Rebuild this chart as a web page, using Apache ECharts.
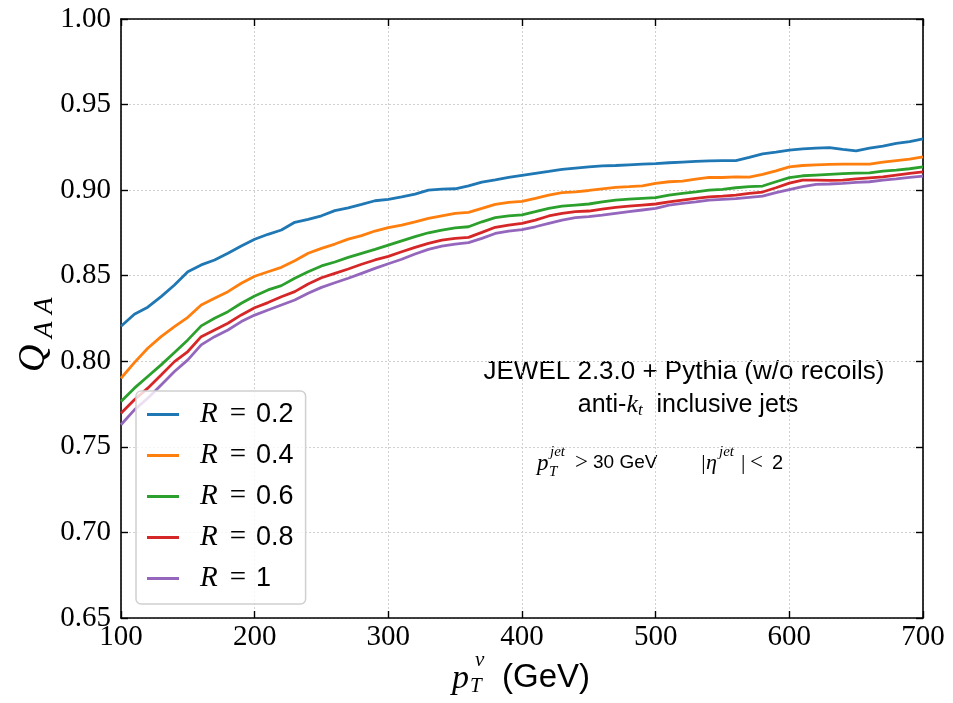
<!DOCTYPE html>
<html>
<head>
<meta charset="utf-8">
<script src="https://cdn.jsdelivr.net/npm/echarts@6/dist/echarts.min.js"></script>
<style>html,body{margin:0;padding:0;background:#fff}#c{width:953px;height:703px}</style>
</head>
<body>
<div id="c"></div>
<script>
const pt = [100,110,120,130,140,150,160,170,180,190,200,210,220,230,240,250,260,270,280,290,300,310,320,330,340,350,360,370,380,390,400,410,420,430,440,450,460,470,480,490,500,510,520,530,540,550,560,570,580,590,600,610,620,630,640,650,660,670,680,690,700];
const R02 = [0.8205,0.8275,0.8316,0.8378,0.8446,0.8523,0.8563,0.8592,0.8631,0.8673,0.8713,0.8742,0.8767,0.8812,0.8829,0.8850,0.8880,0.8897,0.8917,0.8938,0.8946,0.8961,0.8977,0.9000,0.9006,0.9008,0.9025,0.9047,0.9060,0.9074,0.9086,0.9098,0.9109,0.9121,0.9129,0.9136,0.9142,0.9144,0.9148,0.9152,0.9155,0.9160,0.9164,0.9168,0.9171,0.9173,0.9173,0.9191,0.9212,0.9222,0.9234,0.9241,0.9245,0.9249,0.9238,0.9230,0.9245,0.9257,0.9273,0.9284,0.9300];
const R04 = [0.7901,0.7992,0.8076,0.8144,0.8202,0.8257,0.8329,0.8368,0.8407,0.8456,0.8497,0.8523,0.8549,0.8588,0.8631,0.8660,0.8685,0.8714,0.8734,0.8761,0.8781,0.8796,0.8815,0.8835,0.8850,0.8864,0.8870,0.8893,0.8917,0.8928,0.8934,0.8952,0.8971,0.8985,0.8990,0.8998,0.9008,0.9016,0.9020,0.9025,0.9040,0.9049,0.9053,0.9064,0.9074,0.9074,0.9078,0.9076,0.9092,0.9113,0.9136,0.9144,0.9148,0.9150,0.9152,0.9152,0.9152,0.9164,0.9173,0.9181,0.9195];
const R06 = [0.7765,0.7843,0.7911,0.7979,0.8051,0.8125,0.8207,0.8251,0.8290,0.8339,0.8382,0.8417,0.8442,0.8485,0.8523,0.8557,0.8580,0.8607,0.8631,0.8654,0.8679,0.8704,0.8728,0.8751,0.8767,0.8780,0.8786,0.8815,0.8839,0.8850,0.8856,0.8874,0.8893,0.8907,0.8913,0.8919,0.8932,0.8942,0.8948,0.8952,0.8956,0.8971,0.8981,0.8990,0.9000,0.9004,0.9014,0.9020,0.9024,0.9049,0.9073,0.9084,0.9088,0.9092,0.9096,0.9099,0.9101,0.9111,0.9117,0.9125,0.9136];
const R08 = [0.7697,0.7775,0.7843,0.7920,0.7998,0.8057,0.8144,0.8183,0.8222,0.8271,0.8313,0.8343,0.8377,0.8407,0.8452,0.8488,0.8514,0.8539,0.8567,0.8592,0.8613,0.8640,0.8666,0.8689,0.8708,0.8718,0.8724,0.8753,0.8783,0.8796,0.8806,0.8825,0.8849,0.8864,0.8874,0.8878,0.8889,0.8899,0.8907,0.8913,0.8919,0.8932,0.8942,0.8952,0.8961,0.8965,0.8971,0.8981,0.8989,0.9014,0.9041,0.9059,0.9059,0.9057,0.9059,0.9066,0.9072,0.9078,0.9088,0.9098,0.9107];
const R10 = [0.7629,0.7716,0.7784,0.7862,0.7940,0.8008,0.8096,0.8144,0.8183,0.8232,0.8270,0.8300,0.8329,0.8358,0.8397,0.8432,0.8459,0.8485,0.8514,0.8543,0.8570,0.8596,0.8627,0.8654,0.8673,0.8685,0.8693,0.8718,0.8747,0.8761,0.8769,0.8786,0.8806,0.8825,0.8839,0.8845,0.8854,0.8864,0.8874,0.8884,0.8893,0.8913,0.8923,0.8932,0.8942,0.8946,0.8950,0.8958,0.8965,0.8985,0.9003,0.9020,0.9034,0.9036,0.9039,0.9045,0.9049,0.9059,0.9066,0.9074,0.9082];
const seriesNames = ['R = 0.2','R = 0.4','R = 0.6','R = 0.8','R = 1'];
const seriesValues = [R02,R04,R06,R08,R10];
const colors = ['#1f77b4','#ff7f0e','#2ca02c','#d62728','#9467bd'];
const xTicks = [100,200,300,400,500,600,700];
const yTicks = [0.65,0.70,0.75,0.80,0.85,0.90,0.95,1.00];

const SERIF = '"Liberation Serif", "DejaVu Serif", serif';
const SANS = '"Liberation Sans", "DejaVu Sans", sans-serif';

const chart = echarts.init(document.getElementById('c'), null, {renderer:'canvas'});
const axisLine = {show:true, lineStyle:{color:'#000', width:1.6}};
const tick = {show:true, inside:true, length:7, lineStyle:{color:'#000', width:1.4}};
const grid = {show:true, lineStyle:{color:'#d0d0d0', type:[2,2], width:1}};

const option = {
  animation:false,
  backgroundColor:'#fff',
  color: colors,
  grid:{left:121, right:30, top:19, bottom:85, containLabel:false},
  xAxis:[
    {type:'value', min:xTicks[0], max:xTicks[xTicks.length-1], interval:100, position:'bottom',
     axisLine, axisTick:tick, splitLine:grid,
     axisLabel:{color:'#000', fontFamily:SERIF, fontSize:29, margin:5}},
    {type:'value', min:xTicks[0], max:xTicks[xTicks.length-1], interval:100, position:'top',
     axisLine, axisTick:tick, splitLine:{show:false}, axisLabel:{show:false}}
  ],
  yAxis:[
    {type:'value', min:yTicks[0], max:yTicks[yTicks.length-1], interval:0.05, position:'left',
     axisLine, axisTick:tick, splitLine:grid,
     axisLabel:{color:'#000', fontFamily:SERIF, fontSize:29, margin:10,
       formatter:v=>v.toFixed(2)}},
    {type:'value', min:yTicks[0], max:yTicks[yTicks.length-1], interval:0.05, position:'right',
     axisLine, axisTick:tick, splitLine:{show:false}, axisLabel:{show:false}}
  ],
  legend:{
    orient:'vertical', left:136, top:391,
    data: seriesNames,
    icon:'rect', itemWidth:32, itemHeight:3, itemGap:12,
    padding:[9,12,11,11],
    backgroundColor:'rgba(255,255,255,0.8)',
    borderColor:'#d0d0d0', borderWidth:1.5, borderRadius:5,
    formatter: name => '{r|R}{e|=}{n|' + name.split('= ')[1] + '}',
    textStyle:{
      color:'#000',
      rich:{
        r:{fontFamily:SERIF, fontStyle:'italic', fontSize:29, padding:[0,0,0,16], lineHeight:29},
        e:{fontFamily:SERIF, fontSize:29, padding:[0,10,0,12], lineHeight:29},
        n:{fontFamily:SANS, fontSize:27, lineHeight:29}
      }
    }
  },
  series: seriesNames.map((n,i)=>({
    name:n, type:'line', showSymbol:false, symbol:'none',
    data: pt.map((x,j)=>[x, seriesValues[i][j]]),
    lineStyle:{width:2.8, color:colors[i]},
    itemStyle:{color:colors[i]}
  })),
  graphic:[
    // x axis title
    {type:'text', left:452, top:662, style:{text:'p', font:'italic 34px '+SERIF, fill:'#000'}},
    {type:'text', left:475, top:650, style:{text:'v', font:'italic 21px '+SERIF, fill:'#000'}},
    {type:'text', left:470, top:676, style:{text:'T', font:'italic 21px '+SERIF, fill:'#000'}},
    {type:'text', left:502, top:661, style:{text:'(GeV)', font:'33px '+SANS, fill:'#000'}},
    // y axis title
    {type:'text', x:15, y:372, rotation:Math.PI/2, style:{text:'Q', font:'italic 38px '+SERIF, fill:'#000'}},
    {type:'text', x:31, y:338, rotation:Math.PI/2, style:{text:'A', font:'italic 27px '+SERIF, fill:'#000'}},
    {type:'text', x:31, y:314, rotation:Math.PI/2, style:{text:'A', font:'italic 27px '+SERIF, fill:'#000'}},
    // annotations
    {type:'text', x:684, y:372, style:{text:'JEWEL 2.3.0 + Pythia (w/o recoils)', font:'26px '+SANS, fill:'#000', align:'center', verticalAlign:'middle'}},
    {type:'text', x:688, y:405, style:{
      text:'{a|anti-}{k|k}{t|t}{a|  inclusive jets}', align:'center', verticalAlign:'middle',
      rich:{a:{font:'25px '+SANS, fill:'#000', lineHeight:30},
            k:{font:'italic 26px '+SERIF, fill:'#000', lineHeight:30},
            t:{font:'italic 17px '+SERIF, fill:'#000', lineHeight:30, padding:[12,0,0,0]}}}},
    {type:'text', left:537, top:452, style:{text:'p', font:'italic 23px '+SERIF, fill:'#000'}},
    {type:'text', left:550, top:445, style:{text:'jet', font:'italic 15px '+SERIF, fill:'#000'}},
    {type:'text', left:549, top:465, style:{text:'T', font:'italic 15px '+SERIF, fill:'#000'}},
    {type:'text', left:575, top:451, style:{text:'>', font:'23px '+SERIF, fill:'#000'}},
    {type:'text', left:593, top:453, style:{text:'30 GeV', font:'19px '+SANS, fill:'#000'}},
    {type:'text', left:700, top:452, style:{text:'|\u03b7', font:'italic 22px '+SERIF, fill:'#000'}},
    {type:'text', left:719, top:445, style:{text:'jet', font:'italic 15px '+SERIF, fill:'#000'}},
    {type:'text', left:741, top:452, style:{text:'|', font:'22px '+SERIF, fill:'#000'}},
    {type:'text', left:750, top:451, style:{text:'<', font:'23px '+SERIF, fill:'#000'}},
    {type:'text', left:772, top:453, style:{text:'2', font:'20px '+SANS, fill:'#000'}}
  ]
};
chart.setOption(option);
</script>
</body>
</html>
